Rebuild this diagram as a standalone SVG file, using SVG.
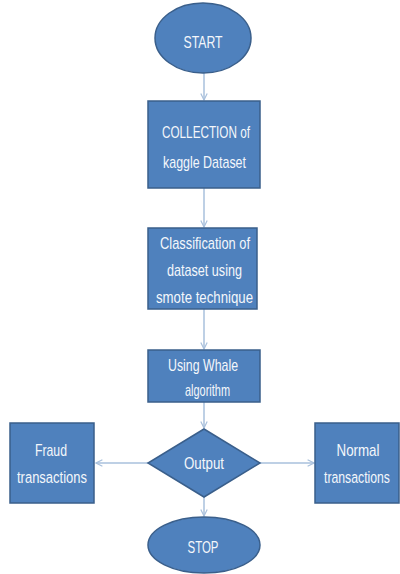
<svg xmlns="http://www.w3.org/2000/svg" width="400" height="574" viewBox="0 0 400 574">
<defs>
<style>
.n{fill:#4F81BD;stroke:#3A5F8B;stroke-width:1.5}
.t{fill:#F4F7FB;font-family:"Liberation Sans Narrow","Liberation Sans",Arial,sans-serif;font-size:17px;text-anchor:middle}
.s{font-size:13.6px}
.c{stroke:#A9C0DC;stroke-width:1.5;fill:none}
</style>
<marker id="ah" viewBox="0 0 10 10" refX="9" refY="5" markerWidth="8" markerHeight="8" orient="auto" markerUnits="userSpaceOnUse">
<path d="M1,1 L9,5 L1,9" fill="none" stroke="#A9C0DC" stroke-width="1.5"/>
</marker>
</defs>
<rect width="400" height="574" fill="#FFFFFF"/>
<g id="connectors">
<line class="c" x1="204" y1="73" x2="204" y2="100" marker-end="url(#ah)"/>
<line class="c" x1="204" y1="188" x2="204" y2="227" marker-end="url(#ah)"/>
<line class="c" x1="204" y1="309" x2="204" y2="349" marker-end="url(#ah)"/>
<line class="c" x1="204" y1="402" x2="204" y2="428" marker-end="url(#ah)"/>
<line class="c" x1="148" y1="463" x2="96" y2="463" marker-end="url(#ah)"/>
<line class="c" x1="260" y1="463" x2="314" y2="463" marker-end="url(#ah)"/>
<line class="c" x1="204" y1="497" x2="204" y2="516" marker-end="url(#ah)"/>
</g>
<g id="start">
<ellipse class="n" cx="203" cy="38" rx="48" ry="35"/>
<text class="t" x="203" y="48" textLength="39" lengthAdjust="spacingAndGlyphs">START</text>
</g>
<g id="collection">
<rect class="n" x="148" y="101" width="112" height="87"/>
<text class="t" x="206" y="138" textLength="88" lengthAdjust="spacingAndGlyphs">COLLECTION of</text>
<text class="t" x="204.5" y="168" textLength="83" lengthAdjust="spacingAndGlyphs">kaggle Dataset</text>
</g>
<g id="classification">
<rect class="n" x="148" y="228" width="109" height="81"/>
<text class="t" x="205" y="249" textLength="90" lengthAdjust="spacingAndGlyphs">Classification of</text>
<text class="t" x="204.5" y="276" textLength="75" lengthAdjust="spacingAndGlyphs">dataset using</text>
<text class="t" x="204.5" y="303" textLength="97" lengthAdjust="spacingAndGlyphs">smote  technique</text>
</g>
<g id="whale">
<rect class="n" x="148" y="350" width="112" height="52"/>
<text class="t" x="203" y="371" textLength="70" lengthAdjust="spacingAndGlyphs">Using Whale</text>
<text class="t" x="207.5" y="396" textLength="45" lengthAdjust="spacingAndGlyphs">algorithm</text>
</g>
<g id="output">
<polygon class="n" points="204,429 260,463 204,497 148,463"/>
<text class="t" x="204" y="469" textLength="40" lengthAdjust="spacingAndGlyphs">Output</text>
</g>
<g id="fraud">
<rect class="n" x="10" y="423" width="84" height="80"/>
<text class="t" x="51" y="456" textLength="32" lengthAdjust="spacingAndGlyphs">Fraud</text>
<text class="t s" x="52" y="386.4" transform="scale(1,1.25)" textLength="70" lengthAdjust="spacingAndGlyphs">transactions</text>
</g>
<g id="normal">
<rect class="n" x="315" y="423" width="84" height="80"/>
<text class="t" x="358" y="456" textLength="43" lengthAdjust="spacingAndGlyphs">Normal</text>
<text class="t s" x="357" y="386.4" transform="scale(1,1.25)" textLength="66" lengthAdjust="spacingAndGlyphs">transactions</text>
</g>
<g id="stop">
<ellipse class="n" cx="204" cy="545" rx="56" ry="28"/>
<text class="t" x="203" y="553" textLength="31" lengthAdjust="spacingAndGlyphs">STOP</text>
</g>
</svg>
